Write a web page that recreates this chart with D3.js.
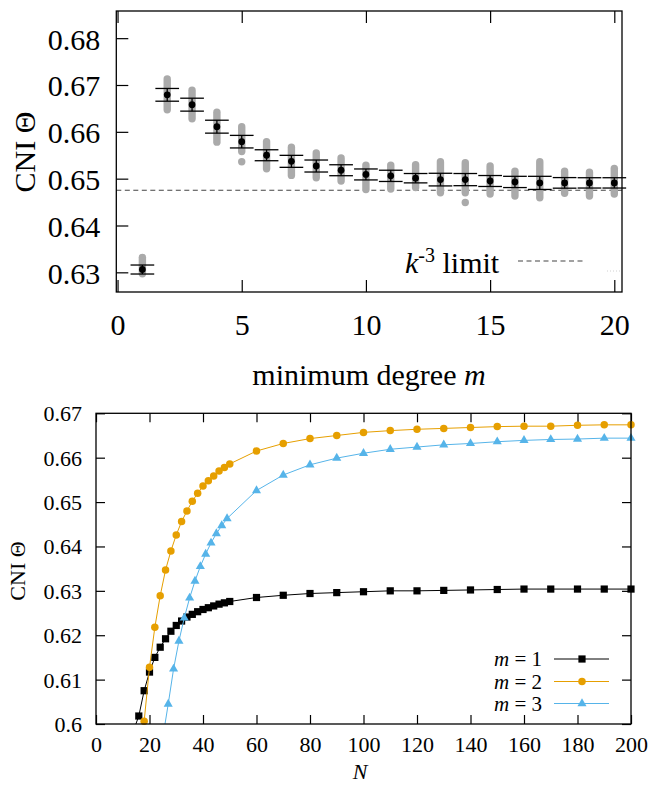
<!DOCTYPE html>
<html>
<head>
<meta charset="utf-8">
<script src="https://cdn.jsdelivr.net/npm/d3@7"></script>
<style>
  html, body { margin: 0; padding: 0; background: #fff; }
  svg text { font-family: "Liberation Serif", "DejaVu Serif", serif; fill: #000; }
</style>
</head>
<body>
<svg id="chart" width="664" height="785" font-family="Liberation Serif, DejaVu Serif, serif"></svg>
<script>
const FONT = "'Liberation Serif', 'DejaVu Serif', serif";

// ---------- Panel A: CNI versus minimum degree m ----------
const degrees = d3.range(1, 21);
const cniMean = [0.6306, 0.6679, 0.6658, 0.6611, 0.6579, 0.6550, 0.6537, 0.6527, 0.6518, 0.6509,
                 0.6506, 0.6501, 0.6498, 0.6498, 0.6495, 0.6493, 0.6491, 0.6491, 0.6491, 0.6491];
const cniErr = [0.00096, 0.00136, 0.00138, 0.00138, 0.00134, 0.00117, 0.00128, 0.00128, 0.00117, 0.00117,
                0.00120, 0.00100, 0.00135, 0.00130, 0.00117, 0.00120, 0.00140, 0.00113, 0.00110, 0.00110];
// spread of the individual realisations (grey)
const sampleLow = [0.6297, 0.6647, 0.6628, 0.6578, 0.6558, 0.6521, 0.6507, 0.6502, 0.6495, 0.6477,
                   0.6478, 0.6481, 0.6470, 0.6470, 0.6467, 0.6463, 0.6459, 0.6469, 0.6463, 0.6467];
const sampleHigh = [0.6332, 0.6713, 0.6689, 0.6642, 0.6611, 0.6579, 0.6567, 0.6555, 0.6544, 0.6529,
                    0.6529, 0.6530, 0.6536, 0.6534, 0.6527, 0.6516, 0.6536, 0.6516, 0.6514, 0.6522];
const outlierDegree = [5, 14];
const outlierValue = [0.6536, 0.6449];
const kLimit = 0.64751;
const topXTicks = [0, 5, 10, 15, 20];
const topYTicks = [0.63, 0.64, 0.65, 0.66, 0.67, 0.68];

// ---------- Panel B: CNI versus network size N ----------
const n1 = [14, 16, 18, 20, 22, 24, 26, 28, 30, 32, 34, 36, 38, 40, 42, 44, 46, 48, 50,
            60, 70, 80, 90, 100, 110, 120, 130, 140, 150, 160, 170, 180, 190, 200];
const cni1 = [0.5985, 0.6018, 0.6075, 0.6117, 0.6150, 0.6173, 0.6192, 0.6209, 0.6222, 0.6232,
              0.6241, 0.6247, 0.6253, 0.6258, 0.6262, 0.6266, 0.6270, 0.6273, 0.6276,
              0.6285, 0.6290, 0.6294, 0.6296, 0.6298, 0.6300, 0.6300, 0.6301, 0.6302, 0.6303,
              0.6304, 0.6304, 0.6304, 0.6304, 0.6304];
const n2 = [18, 20, 22, 24, 26, 28, 30, 32, 34, 36, 38, 40, 42, 44, 46, 48, 50,
            60, 70, 80, 90, 100, 110, 120, 130, 140, 150, 160, 170, 180, 190, 200];
const cni2 = [0.6006, 0.6128, 0.6218, 0.6289, 0.6347, 0.6390, 0.6426, 0.6456, 0.6480, 0.6502,
              0.6520, 0.6536, 0.6548, 0.6559, 0.6570, 0.6578, 0.6586,
              0.6615, 0.6632, 0.6643, 0.6650, 0.6657, 0.6661, 0.6664, 0.6666, 0.6668, 0.6670,
              0.6671, 0.6671, 0.6673, 0.6674, 0.6674];
const n3 = [25, 27, 29, 31, 33, 35, 37, 39, 41, 43, 45, 47, 49,
            60, 70, 80, 90, 100, 110, 120, 130, 140, 150, 160, 170, 180, 190, 200];
const cni3 = [0.5970, 0.6045, 0.6124, 0.6187, 0.6239, 0.6284, 0.6322, 0.6355, 0.6383, 0.6408,
              0.6429, 0.6447, 0.6463,
              0.6526, 0.6561, 0.6584, 0.6599, 0.6610, 0.6619, 0.6624, 0.6629, 0.6632, 0.6636,
              0.6639, 0.6641, 0.6642, 0.6644, 0.6644];
const seriesLabels = ["1", "2", "3"];
const seriesColors = ["#000000", "#e69f00", "#56b4e9"];
const botXTicks = d3.range(0, 201, 20);
const botYTicks = [0.60, 0.61, 0.62, 0.63, 0.64, 0.65, 0.66, 0.67];

const svg = d3.select("#chart");
svg.append("rect").attr("width", 664).attr("height", 785).attr("fill", "#fff");

// ===== Panel A =====
const xA = d3.scaleLinear().domain([-0.05, 20.31]).range([116.3, 622]);
const yA = d3.scaleLinear().domain([0.6258, 0.6858]).range([292, 11]);
const A = svg.append("g");

function cleanAxis(g, size) {
  g.attr("font-family", FONT).attr("font-size", size);
  g.select(".domain").remove();
  g.selectAll(".tick line").attr("stroke", "#000").attr("stroke-width", 1.2);
  g.selectAll(".tick text").attr("font-family", FONT).attr("font-size", size).attr("fill", "#000");
}

// x axis (bottom, with labels) and mirrored ticks on top
const axA = A.append("g").attr("transform", `translate(0,${yA.range()[0]})`)
  .call(d3.axisBottom(xA).tickValues(topXTicks).tickSize(-12).tickFormat(d3.format("d")));
cleanAxis(axA, 30);
axA.selectAll(".tick text").attr("y", 43).attr("dy", null);
const axAt = A.append("g").attr("transform", `translate(0,${yA.range()[1]})`)
  .call(d3.axisTop(xA).tickValues(topXTicks).tickSize(-12).tickFormat(""));
cleanAxis(axAt, 30);

// y axis (left only)
const ayA = A.append("g").attr("transform", `translate(${xA.range()[0]},0)`)
  .call(d3.axisLeft(yA).tickValues(topYTicks).tickSize(-12).tickFormat(d3.format(".2f")));
cleanAxis(ayA, 30);
ayA.selectAll(".tick text").attr("x", -16).attr("dy", null).attr("y", 11);

// k^-3 limit
A.append("line")
  .attr("x1", xA.range()[0]).attr("x2", xA.range()[1])
  .attr("y1", yA(kLimit)).attr("y2", yA(kLimit))
  .attr("stroke", "#444").attr("stroke-width", 1.1).attr("stroke-dasharray", "5,3.5");

// grey realisations
A.append("g").selectAll("line").data(degrees).join("line")
  .attr("x1", d => xA(d)).attr("x2", d => xA(d))
  .attr("y1", (d, i) => yA(sampleLow[i])).attr("y2", (d, i) => yA(sampleHigh[i]))
  .attr("stroke", "#aaaaaa").attr("stroke-width", 7.4).attr("stroke-linecap", "round");
A.append("g").selectAll("circle").data(outlierDegree).join("circle")
  .attr("cx", d => xA(d)).attr("cy", (d, i) => yA(outlierValue[i]))
  .attr("r", 3.7).attr("fill", "#aaaaaa");

// mean and error bars
const eb = A.append("g").attr("stroke", "#000").attr("stroke-width", 1.3);
degrees.forEach((d, i) => {
  const lo = cniMean[i] - cniErr[i], hi = cniMean[i] + cniErr[i];
  eb.append("line").attr("x1", xA(d)).attr("x2", xA(d)).attr("y1", yA(lo)).attr("y2", yA(hi));
  [lo, hi].forEach(v => {
    eb.append("line").attr("x1", xA(d - 0.477)).attr("x2", xA(d + 0.477))
      .attr("y1", yA(v)).attr("y2", yA(v));
  });
});
A.append("g").selectAll("circle").data(degrees).join("circle")
  .attr("cx", d => xA(d)).attr("cy", (d, i) => yA(cniMean[i]))
  .attr("r", 3.4).attr("fill", "#000");

// frame
A.append("rect")
  .attr("x", xA.range()[0]).attr("y", yA.range()[1])
  .attr("width", xA.range()[1] - xA.range()[0]).attr("height", yA.range()[0] - yA.range()[1])
  .attr("fill", "none").attr("stroke", "#000").attr("stroke-width", 1.3);

// legend
const legA = A.append("text").attr("x", 405).attr("y", 273).attr("font-size", 30).attr("font-family", FONT);
legA.append("tspan").attr("font-style", "italic").text("k");
legA.append("tspan").attr("font-size", 20).attr("dy", -11).text("-3");
legA.append("tspan").attr("dy", 11).text(" limit");
A.append("line").attr("x1", 518).attr("x2", 583).attr("y1", 261).attr("y2", 261)
  .attr("stroke", "#444").attr("stroke-width", 1.1).attr("stroke-dasharray", "5,3.5");
A.append("line").attr("x1", 607).attr("x2", 620).attr("y1", 271).attr("y2", 271)
  .attr("stroke", "#d0d0d0").attr("stroke-width", 1).attr("stroke-dasharray", "1,2");

// axis titles
A.append("text").attr("x", 369).attr("y", 385).attr("text-anchor", "middle")
  .attr("font-size", 30).attr("font-family", FONT)
  .call(t => { t.append("tspan").text("minimum degree "); t.append("tspan").attr("font-style", "italic").text("m"); });
A.append("text").attr("transform", "translate(35,152) rotate(-90)")
  .attr("text-anchor", "middle").attr("font-size", 30).attr("font-family", FONT).text("CNI Θ");

// ===== Panel B =====
const xB = d3.scaleLinear().domain([0, 200]).range([96, 631]);
const yB = d3.scaleLinear().domain([0.6, 0.67]).range([724, 413.3]);
const B = svg.append("g");
const fmtB = d => String(+d.toFixed(2));

const axB = B.append("g").attr("transform", `translate(0,${yB.range()[0]})`)
  .call(d3.axisBottom(xB).tickValues(botXTicks).tickSize(-9).tickFormat(d3.format("d")));
cleanAxis(axB, 22);
axB.selectAll(".tick text").attr("y", 28).attr("dy", null);
const axBt = B.append("g").attr("transform", `translate(0,${yB.range()[1]})`)
  .call(d3.axisTop(xB).tickValues(botXTicks).tickSize(-9).tickFormat(""));
cleanAxis(axBt, 22);
const ayB = B.append("g").attr("transform", `translate(${xB.range()[0]},0)`)
  .call(d3.axisLeft(yB).tickValues(botYTicks).tickSize(-9).tickFormat(fmtB));
cleanAxis(ayB, 22);
ayB.selectAll(".tick text").attr("x", -14).attr("dy", null).attr("y", 7.5);
const ayBr = B.append("g").attr("transform", `translate(${xB.range()[1]},0)`)
  .call(d3.axisRight(yB).tickValues(botYTicks).tickSize(-9).tickFormat(""));
cleanAxis(ayBr, 22);

B.append("clipPath").attr("id", "clipB").append("rect")
  .attr("x", xB.range()[0]).attr("y", yB.range()[1])
  .attr("width", xB.range()[1] - xB.range()[0]).attr("height", yB.range()[0] - yB.range()[1]);

const series = [
  { n: n1, v: cni1, sym: d3.symbolSquare, size: 52 },
  { n: n2, v: cni2, sym: d3.symbolCircle, size: 44 },
  { n: n3, v: cni3, sym: d3.symbolTriangle, size: 36 }
];
const lineB = d3.line().x(d => xB(d[0])).y(d => yB(d[1]));
series.forEach((s, k) => {
  const pts = s.n.map((n, i) => [n, s.v[i]]);
  B.append("path").attr("clip-path", "url(#clipB)").attr("d", lineB(pts))
    .attr("fill", "none").attr("stroke", seriesColors[k]).attr("stroke-width", 1);
  B.append("g").selectAll("path").data(pts.filter(p => p[1] >= yB.domain()[0])).join("path")
    .attr("transform", p => `translate(${xB(p[0])},${yB(p[1])})`)
    .attr("d", d3.symbol(s.sym, s.size)).attr("fill", seriesColors[k]);
});

B.append("rect")
  .attr("x", xB.range()[0]).attr("y", yB.range()[1])
  .attr("width", xB.range()[1] - xB.range()[0]).attr("height", yB.range()[0] - yB.range()[1])
  .attr("fill", "none").attr("stroke", "#000").attr("stroke-width", 1.3);

// legend
const legRows = [659, 681.5, 703.5];
series.forEach((s, k) => {
  const t = B.append("text").attr("x", 542).attr("y", legRows[k] + 7)
    .attr("text-anchor", "end").attr("font-size", 21).attr("font-family", FONT);
  t.append("tspan").attr("font-style", "italic").text("m");
  t.append("tspan").text(" = " + seriesLabels[k]);
  B.append("line").attr("x1", 554).attr("x2", 609).attr("y1", legRows[k]).attr("y2", legRows[k])
    .attr("stroke", seriesColors[k]).attr("stroke-width", 1);
  B.append("path").attr("transform", `translate(582,${legRows[k]})`)
    .attr("d", d3.symbol(s.sym, s.size)).attr("fill", seriesColors[k]);
});

// axis titles
B.append("text").attr("x", 360).attr("y", 779).attr("text-anchor", "middle")
  .attr("font-size", 22).attr("font-style", "italic").attr("font-family", FONT).text("N");
B.append("text").attr("transform", "translate(25,571) rotate(-90)")
  .attr("text-anchor", "middle").attr("font-size", 22).attr("font-family", FONT).text("CNI Θ");
</script>
</body>
</html>
